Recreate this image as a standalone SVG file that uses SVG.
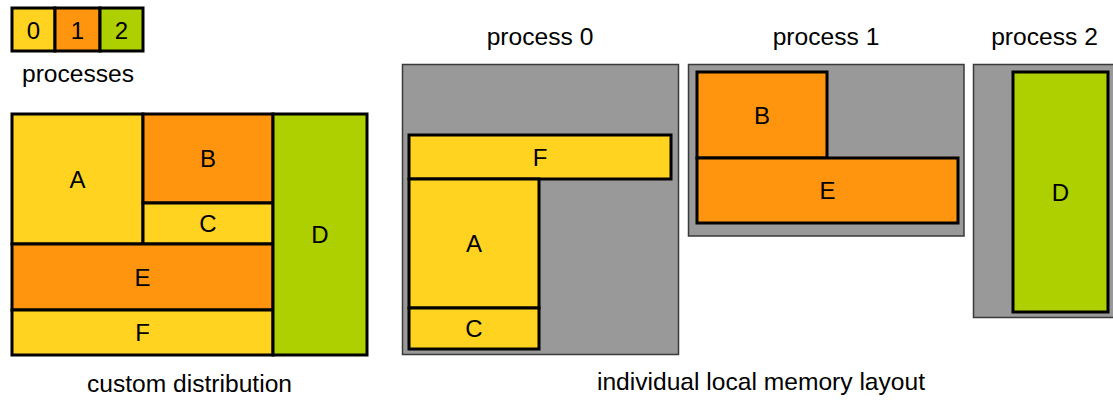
<svg xmlns="http://www.w3.org/2000/svg" width="1113" height="401" viewBox="0 0 1113 401">
  <style>
    text { font-family: "Liberation Sans", Arial, sans-serif; fill: #000; }
    .cap { font-size: 24.6px; text-anchor: middle; }
    .lbl { font-size: 24px; text-anchor: middle; dominant-baseline: central; }
    .blk { stroke: #000; stroke-width: 3; }
    .p0 { fill: #FFD320; }
    .p1 { fill: #FF950E; }
    .p2 { fill: #AECF00; }
    .mem { fill: #999999; stroke: #3a3a3a; stroke-width: 1.5; }
  </style>

  <!-- legend: process colours -->
  <g id="legend">
    <rect class="blk p0" x="12" y="8" width="43" height="43"/>
    <rect class="blk p1" x="55" y="8" width="45" height="43"/>
    <rect class="blk p2" x="100" y="8" width="43" height="43"/>
    <text class="lbl" x="33.5" y="30">0</text>
    <text class="lbl" x="77.5" y="30">1</text>
    <text class="lbl" x="121.5" y="30">2</text>
    <text class="cap" x="78" y="82">processes</text>
  </g>

  <!-- global array with custom distribution -->
  <g id="distribution">
    <g id="dist-A"><rect class="blk p0" x="12" y="114" width="131" height="130"/><text class="lbl" x="77.5" y="179">A</text></g>
    <g id="dist-B"><rect class="blk p1" x="143" y="114" width="130" height="89"/><text class="lbl" x="208" y="158.5">B</text></g>
    <g id="dist-C"><rect class="blk p0" x="143" y="203" width="130" height="41"/><text class="lbl" x="208" y="223.5">C</text></g>
    <g id="dist-E"><rect class="blk p1" x="12" y="244" width="261" height="66"/><text class="lbl" x="142.5" y="277">E</text></g>
    <g id="dist-F"><rect class="blk p0" x="12" y="310" width="261" height="45"/><text class="lbl" x="142.5" y="332.5">F</text></g>
    <g id="dist-D"><rect class="blk p2" x="273" y="114" width="94" height="241"/><text class="lbl" x="320" y="234.5">D</text></g>
    <text class="cap" x="189.5" y="392">custom distribution</text>
  </g>

  <!-- local memory of process 0 -->
  <g id="process0">
    <text class="cap" x="540" y="45">process 0</text>
    <rect class="mem" x="402.5" y="64.5" width="276" height="290"/>
    <g id="p0-F"><rect class="blk p0" x="409" y="135" width="262" height="44"/><text class="lbl" x="540" y="157">F</text></g>
    <g id="p0-A"><rect class="blk p0" x="409" y="179" width="130" height="129"/><text class="lbl" x="474" y="243.5">A</text></g>
    <g id="p0-C"><rect class="blk p0" x="409" y="308" width="130" height="41"/><text class="lbl" x="474" y="328.5">C</text></g>
  </g>

  <!-- local memory of process 1 -->
  <g id="process1">
    <text class="cap" x="826" y="45">process 1</text>
    <rect class="mem" x="688.5" y="64.5" width="275.5" height="171.5"/>
    <g id="p1-B"><rect class="blk p1" x="697" y="72" width="130" height="86"/><text class="lbl" x="762" y="115">B</text></g>
    <g id="p1-E"><rect class="blk p1" x="697" y="158" width="261" height="65"/><text class="lbl" x="827.5" y="190.5">E</text></g>
  </g>

  <!-- local memory of process 2 -->
  <g id="process2">
    <text class="cap" x="1044.5" y="45">process 2</text>
    <rect class="mem" x="973.5" y="64.5" width="145" height="253"/>
    <g id="p2-D"><rect class="blk p2" x="1013" y="72" width="95" height="240"/><text class="lbl" x="1060.5" y="192">D</text></g>
  </g>

  <text class="cap" x="761" y="390">individual local memory layout</text>

  <!-- no connectors in this figure -->
  <g id="connectors"/>
</svg>
